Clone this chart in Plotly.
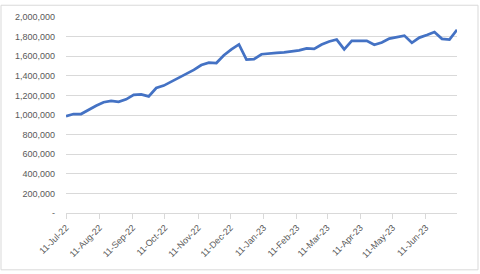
import pandas as pd
import plotly.graph_objects as go

start_date = "2022-07-11"
n_weeks = 53
dates = pd.date_range(start_date, periods=n_weeks, freq="7D")

values = [
    987000, 1010000, 1010000, 1055000, 1095000, 1130000, 1145000, 1135000, 1160000, 1205000,
    1210000, 1190000, 1275000, 1300000, 1340000, 1380000, 1420000, 1460000, 1510000, 1535000,
    1530000, 1610000, 1670000, 1720000, 1565000, 1570000, 1620000, 1630000, 1635000, 1640000,
    1650000, 1660000, 1680000, 1675000, 1720000, 1750000, 1770000, 1670000, 1757000, 1757000,
    1757000, 1717000, 1740000, 1780000, 1797000, 1810000, 1737000, 1790000, 1817000, 1847000,
    1777000, 1770000, 1870000,
]

x_tick_dates = [
    "2022-07-11", "2022-08-11", "2022-09-11", "2022-10-11", "2022-11-11", "2022-12-11",
    "2023-01-11", "2023-02-11", "2023-03-11", "2023-04-11", "2023-05-11", "2023-06-11",
]
x_tick_labels = [
    "11-Jul-22", "11-Aug-22", "11-Sep-22", "11-Oct-22", "11-Nov-22", "11-Dec-22",
    "11-Jan-23", "11-Feb-23", "11-Mar-23", "11-Apr-23", "11-May-23", "11-Jun-23",
]

y_tick_vals = [0, 200000, 400000, 600000, 800000, 1000000, 1200000, 1400000, 1600000, 1800000, 2000000]
y_tick_labels = ["-"] + [f"{v:,}" for v in y_tick_vals[1:]]

fig = go.Figure()
fig.add_trace(go.Scatter(
    x=dates, y=values, mode="lines",
    line=dict(color="#4472C4", width=2.75),
    hoverinfo="x+y",
))

fig.update_layout(
    width=480, height=274,
    margin=dict(l=66, r=23, t=13, b=61),
    paper_bgcolor="white", plot_bgcolor="white",
    showlegend=False,
    font=dict(family="Liberation Sans, Arial, sans-serif", size=9, color="#595959"),
    xaxis=dict(
        type="date",
        range=[dates[0], dates[-1]],
        tickvals=x_tick_dates,
        ticktext=x_tick_labels,
        tickangle=-45,
        ticks="outside", ticklen=5, tickcolor="#d9d9d9",
        showgrid=False,
        showline=True, linecolor="#d9d9d9", linewidth=1,
        zeroline=False,
        tickfont=dict(size=9, color="#595959"),
    ),
    yaxis=dict(
        range=[0, 2000000],
        tickvals=y_tick_vals,
        ticktext=y_tick_labels,
        showgrid=True, gridcolor="#d9d9d9", gridwidth=1,
        zeroline=False, showline=False,
        ticks="", ticklabelstandoff=10,
        tickfont=dict(size=9, color="#595959"),
    ),
    shapes=[dict(
        type="rect", xref="paper", yref="paper",
        x0=-65/391, x1=(478-66)/391, y0=-(271-213)/200, y1=(213-1)/200,
        line=dict(color="#d9d9d9", width=1), fillcolor="rgba(0,0,0,0)", layer="below",
    )],
)

fig.write_html("out.html")
